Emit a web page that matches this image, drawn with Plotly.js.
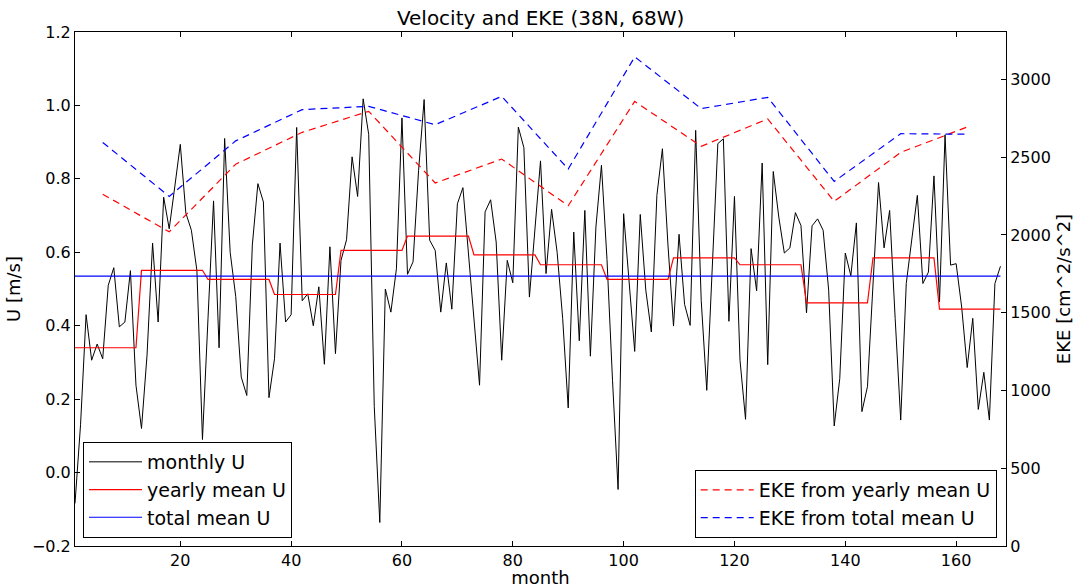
<!DOCTYPE html>
<html><head><meta charset="utf-8">
<script src="https://cdn.plot.ly/plotly-3.0.1.min.js"></script>
<style>html,body{margin:0;padding:0;background:#fff}</style>
</head><body>
<div id="chart" style="width:1077px;height:588px"></div>
<script>
const months = Array.from({length: 168}, (_, i) => i + 1);
const monthlyU = [
 -0.084, 0.13, 0.43, 0.306, 0.35, 0.31, 0.51, 0.558, 0.397, 0.41, 0.55, 0.238,
 0.12, 0.32, 0.625, 0.41, 0.75, 0.664, 0.778, 0.894, 0.707, 0.66, 0.55, 0.09,
 0.42, 0.74, 0.34, 0.91, 0.60, 0.48, 0.26, 0.21, 0.62, 0.787, 0.737, 0.204,
 0.31, 0.625, 0.41, 0.43, 0.94, 0.468, 0.487, 0.40, 0.506, 0.295, 0.615, 0.324,
 0.578, 0.634, 0.86, 0.752, 1.018, 0.921, 0.18, -0.136, 0.50, 0.437, 0.555, 0.966,
 0.54, 0.574, 0.823, 1.016, 0.633, 0.605, 0.437, 0.571, 0.445, 0.732, 0.776, 0.60,
 0.42, 0.238, 0.71, 0.743, 0.628, 0.306, 0.578, 0.517, 0.941, 0.885, 0.478, 0.66,
 0.849, 0.542, 0.717, 0.60, 0.42, 0.176, 0.655, 0.359, 0.714, 0.317, 0.669, 0.837,
 0.58, 0.25, -0.046, 0.705, 0.51, 0.33, 0.703, 0.497, 0.383, 0.755, 0.882, 0.62,
 0.399, 0.649, 0.458, 0.401, 0.932, 0.469, 0.224, 0.569, 0.896, 0.909, 0.412, 0.752,
 0.306, 0.145, 0.61, 0.495, 0.843, 0.294, 0.82, 0.696, 0.598, 0.612, 0.708, 0.673,
 0.435, 0.672, 0.691, 0.66, 0.497, 0.127, 0.256, 0.598, 0.536, 0.68, 0.166, 0.234,
 0.50, 0.79, 0.612, 0.714, 0.42, 0.143, 0.515, 0.63, 0.755, 0.515, 0.546, 0.808,
 0.465, 0.92, 0.565, 0.569, 0.451, 0.286, 0.42, 0.172, 0.273, 0.143, 0.515, 0.562
];
const yearlyMeanU = [0.34, 0.551, 0.526, 0.485, 0.605, 0.644, 0.593, 0.566, 0.526, 0.585, 0.566, 0.462, 0.585, 0.445];
const totalMeanU = 0.535;
const ekeMonths = [6, 18, 30, 42, 54, 66, 78, 90, 102, 114, 126, 138, 150, 162];
const ekeYearly = [2262, 2020, 2455, 2660, 2795, 2334, 2488, 2188, 2859, 2570, 2746, 2216, 2531, 2694];
const ekeTotal  = [2595, 2248, 2605, 2806, 2827, 2709, 2891, 2424, 3145, 2812, 2885, 2344, 2651, 2648];
const xTicks = [20, 40, 60, 80, 100, 120, 140, 160];
const yTicks = [-0.2, 0, 0.2, 0.4, 0.6, 0.8, 1.0, 1.2];
const y2Ticks = [0, 500, 1000, 1500, 2000, 2500, 3000];

const yearlyPerMonth = months.map(m => yearlyMeanU[Math.floor((m - 1) / 12)]);
const totalPerMonth = months.map(() => totalMeanU);

const FONT = 'DejaVu Sans, sans-serif';
const traces = [
  {x: months, y: monthlyU, type: 'scatter', mode: 'lines', name: 'monthly U',
   line: {color: '#000000', width: 1}, legend: 'legend'},
  {x: months, y: yearlyPerMonth, type: 'scatter', mode: 'lines', name: 'yearly mean U',
   line: {color: '#ff0000', width: 1.2}, legend: 'legend'},
  {x: months, y: totalPerMonth, type: 'scatter', mode: 'lines', name: 'total mean U',
   line: {color: '#0000ff', width: 1.2}, legend: 'legend'},
  {x: ekeMonths, y: ekeYearly, type: 'scatter', mode: 'lines', name: 'EKE from yearly mean U',
   yaxis: 'y2', line: {color: '#ff0000', width: 1.2, dash: '7px,5px'}, legend: 'legend2'},
  {x: ekeMonths, y: ekeTotal, type: 'scatter', mode: 'lines', name: 'EKE from total mean U',
   yaxis: 'y2', line: {color: '#0000ff', width: 1.2, dash: '7px,5px'}, legend: 'legend2'}
];

const axisCommon = {
  showline: true, linecolor: '#000', linewidth: 1, ticks: 'inside', ticklen: 5,
  tickcolor: '#000', showgrid: false, zeroline: false,
  tickfont: {family: FONT, size: 16, color: '#000'}
};

const layout = {
  width: 1077, height: 588,
  margin: {l: 75, r: 71, t: 32, b: 42},
  paper_bgcolor: '#fff', plot_bgcolor: '#fff',
  font: {family: FONT, color: '#000'},
  title: {text: 'Velocity and EKE (38N, 68W)', font: {family: FONT, size: 20, color: '#000'},
          x: 0.502, xanchor: 'center', y: 0.97, yanchor: 'middle'},
  xaxis: Object.assign({}, axisCommon, {
    range: [1, 169], tickvals: xTicks, mirror: 'ticks',
    title: {text: 'month', font: {family: FONT, size: 18, color: '#000'}, standoff: 2}
  }),
  yaxis: Object.assign({}, axisCommon, {
    range: [-0.2, 1.2], tickvals: yTicks, tickformat: '.1f',
    title: {text: 'U [m/s]', font: {family: FONT, size: 18, color: '#000'}, standoff: 6}
  }),
  yaxis2: Object.assign({}, axisCommon, {
    range: [0, 3305], tickvals: y2Ticks, overlaying: 'y', side: 'right',
    title: {text: 'EKE [cm^2/s^2]', font: {family: FONT, size: 18, color: '#000'}, standoff: 7}
  }),
  legend: {x: 0.0086, y: 0.0156, xanchor: 'left', yanchor: 'bottom',
           bgcolor: '#fff', bordercolor: '#000', borderwidth: 1, itemwidth: 53,
           font: {family: FONT, size: 19, color: '#000'}},
  legend2: {x: 0.990, y: 0.0156, xanchor: 'right', yanchor: 'bottom',
           bgcolor: '#fff', bordercolor: '#000', borderwidth: 1, itemwidth: 53,
           font: {family: FONT, size: 19, color: '#000'}},
  showlegend: true
};

Plotly.newPlot('chart', traces, layout, {displayModeBar: false, staticPlot: true});
</script>
</body></html>
